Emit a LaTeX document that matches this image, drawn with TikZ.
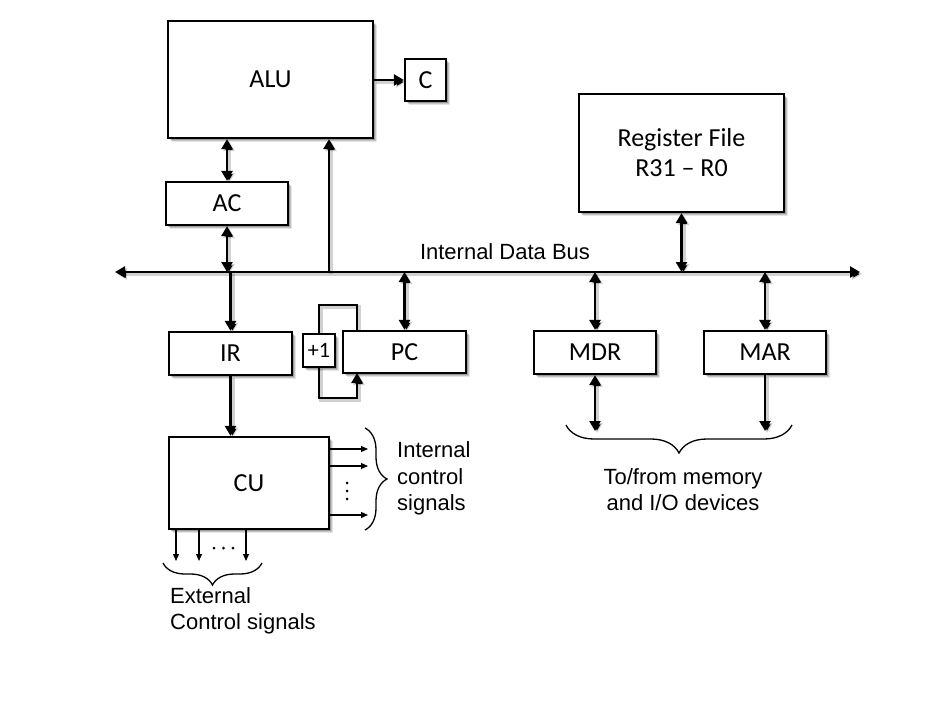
\documentclass[tikz,border=0pt]{standalone}
\usepackage{fontspec}
\setmainfont{Liberation Sans}
\newfontfamily\boxfont{Carlito}
\usetikzlibrary{arrows.meta,shadows,decorations.pathreplacing}
\begin{document}
\begin{tikzpicture}[x=1pt,y=-1pt,
  blk/.style={draw, line width=2.2pt, fill=white, align=center, inner sep=0pt,
    font=\boxfont\fontsize{26}{30}\selectfont,
    drop shadow={shadow xshift=4pt, shadow yshift=-4pt, fill=black, opacity=0.10},
    drop shadow={shadow xshift=3pt, shadow yshift=-3pt, fill=black, opacity=0.15},
    drop shadow={shadow xshift=2pt, shadow yshift=-2pt, fill=black, opacity=0.2}},
  ln/.style={line width=2.6pt,
    preaction={draw=black, draw opacity=0.18, line width=4pt, transform canvas={shift={(2pt,-2pt)}}}},
  tip/.tip={Triangle[length=10pt,width=11pt]},
  arr/.style={ln, -tip},
  darr/.style={ln, tip-tip},
  sarr/.style={line width=1.2pt, -{Triangle[length=7pt,width=6pt]}},
  lbl/.style={font=\fontsize{22}{26.5}\selectfont, inner sep=0pt},
  brc/.style={decorate, line width=1.3pt}
]
\fill[white] (0,0) rectangle (940,706);
\useasboundingbox (0,0) rectangle (940,706);

% coordinates
\coordinate (busL) at (115,272);
\coordinate (busR) at (860,272);
\coordinate (aluin) at (329,272);
\coordinate (lt) at (357,305);
\coordinate (lb) at (357,398);
\coordinate (memio) at (680,431);
\coordinate (s1) at (368,449);
\coordinate (s2) at (368,466);
\coordinate (s3) at (368,515);
\coordinate (e1) at (176,561);
\coordinate (e2) at (199,561);
\coordinate (e3) at (246,561);

% loop behind +1
\draw[ln] (lt |- 0,331) -- (lt) -| (319,334);
\draw[arr] (319,367) |- (lb) -- (lb |- 0,373);

% blocks
\node[blk, minimum width=205pt, minimum height=117pt] (alu) at (270.5,79.5) {ALU};
\node[blk, minimum width=41pt, minimum height=42pt] (c) at (425.5,80) {C};
\node[blk, minimum width=122pt, minimum height=43pt] (ac) at (227,203.5) {AC};
\node[blk, minimum width=205pt, minimum height=118pt] (reg) at (681.5,153) {Register File\\R31 – R0};
\node[blk, minimum width=32pt, minimum height=33pt, font=\boxfont\fontsize{22}{25}\selectfont] (plus) at (319,350.5) {+1};
\node[blk, minimum width=123pt, minimum height=43pt] (ir) at (230.5,353.5) {IR};
\node[blk, minimum width=123pt, minimum height=42pt] (pc) at (404.5,352) {PC};
\node[blk, minimum width=122pt, minimum height=43pt] (mdr) at (595,352.5) {MDR};
\node[blk, minimum width=122pt, minimum height=43pt] (mar) at (765,352.5) {MAR};
\node[blk, minimum width=160pt, minimum height=92pt] (cu) at (249,483) {CU};

% bus
\draw[darr] (busL) -- (busR);
\node[lbl] (busl) at (505,252) {Internal Data Bus};

% connectors
\draw[arr] (alu.east |- c.west) -- (c.west);
\draw[darr] (alu.south -| ac.north) -- (ac.north);
\draw[darr] (ac.south) -- (ac.south |- busL);
\draw[arr] (aluin) -- (aluin |- alu.south);
\draw[darr] (reg.south) -- (reg.south |- busL);
\draw[arr] (ir.north |- busL) -- (ir.north);
\draw[darr] (pc.north |- busL) -- (pc.north);
\draw[darr] (mdr.north |- busL) -- (mdr.north);
\draw[darr] (mar.north |- busL) -- (mar.north);
\draw[darr] (mdr.south) -- (mdr.south |- memio);
\draw[arr] (mar.south) -- (mar.south |- memio);
\draw[arr] (ir.south) -- (ir.south |- cu.north);

% CU signals
\draw[sarr] (s1 -| cu.east) -- (s1);
\draw[sarr] (s2 -| cu.east) -- (s2);
\draw[sarr] (s3 -| cu.east) -- (s3);
\draw[sarr] (e1 |- cu.south) -- (e1);
\draw[sarr] (e2 |- cu.south) -- (e2);
\draw[sarr] (e3 |- cu.south) -- (e3);
\foreach \yy in {483,491,499} \fill (347,\yy) circle (1.5);
\foreach \xx in {214,223.5,233} \fill (\xx,548) circle (1.5);

% braces
\draw[brc, decoration={brace, amplitude=22pt}] (365,428) -- (365,530);
\draw[brc, decoration={brace, amplitude=22pt}] (262,563) -- (163,563);
\draw[brc, decoration={brace, amplitude=28pt}] (792,425) -- (566,425);

% labels
\node[lbl, align=left, anchor=west] (ics) at (397,478.5) {Internal\\control\\signals};
\node[lbl, align=center] (mem) at (683,489.5) {To/from memory\\and I/O devices};
\node[lbl, align=left, anchor=west] (ext) at (170,611) {External\\Control signals};
\end{tikzpicture}
\end{document}
